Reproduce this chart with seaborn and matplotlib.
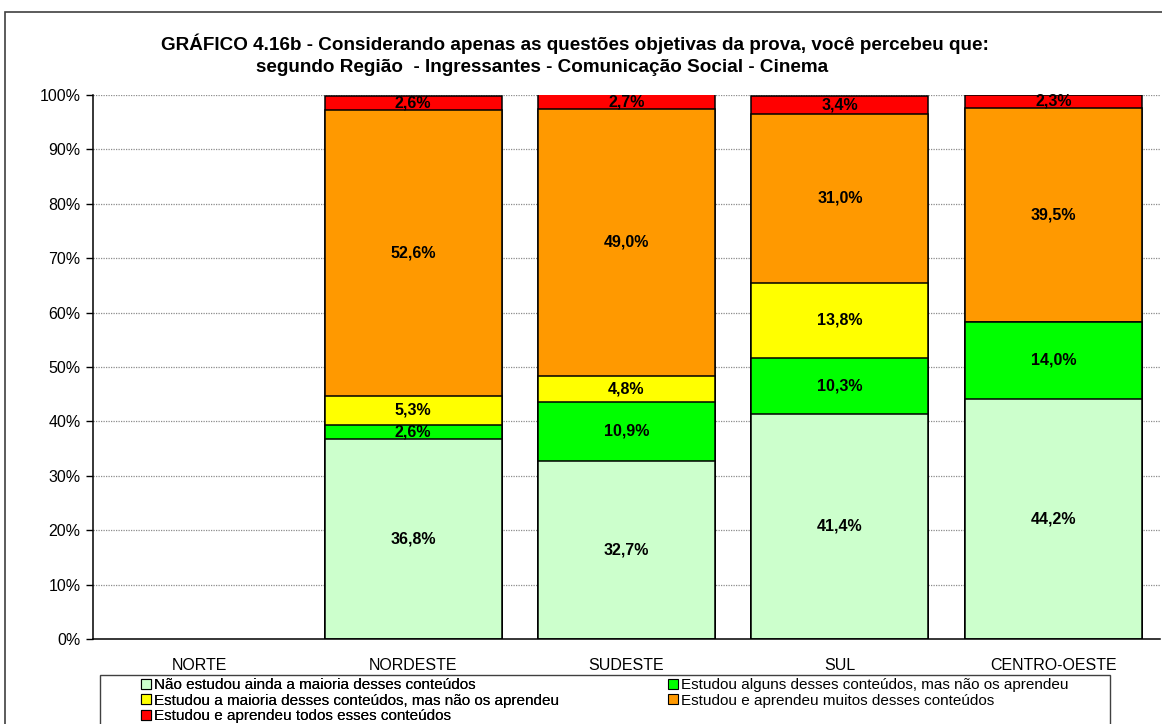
import numpy as np
import pandas as pd
import matplotlib
matplotlib.use("Agg")
import matplotlib.pyplot as plt
from matplotlib.patches import Patch, Rectangle
import seaborn as sns

# Regions and response shares (%) per region
regions = ["NORTE", "NORDESTE", "SUDESTE", "SUL", "CENTRO-OESTE"]
nao_estudou = [np.nan, 36.8, 32.7, 41.4, 44.2]
alguns = [np.nan, 2.6, 10.9, 10.3, 14.0]
maioria = [np.nan, 5.3, 4.8, 13.8, 0.0]
muitos = [np.nan, 52.6, 49.0, 31.0, 39.5]
todos = [np.nan, 2.6, 2.7, 3.4, 2.3]

series_names = [
    "Não estudou ainda a maioria desses conteúdos",
    "Estudou alguns desses conteúdos, mas não os aprendeu",
    "Estudou a maioria desses conteúdos, mas não os aprendeu",
    "Estudou e aprendeu muitos desses conteúdos",
    "Estudou e aprendeu todos esses conteúdos",
]
series_values = [nao_estudou, alguns, maioria, muitos, todos]
colors = ["#CCFFCC", "#00FF00", "#FFFF00", "#FF9900", "#FF0000"]
y_ticks = [0, 10, 20, 30, 40, 50, 60, 70, 80, 90, 100]

sns.set_style("white")
plt.rcParams["font.family"] = ["Liberation Sans", "DejaVu Sans"]
plt.rcParams.update({"text.color": "black", "xtick.color": "black",
                     "ytick.color": "black", "axes.labelcolor": "black"})

W, H = 1162, 724
fig = plt.figure(figsize=(W / 100, H / 100), dpi=100)
ax = fig.add_axes([93 / W, 1 - 639 / H, 1067 / W, 544 / H])

vals = np.array(series_values, dtype=float)
cum = np.nancumsum(np.nan_to_num(vals), axis=0)
cum[:, np.isnan(vals[0])] = np.nan

# Stacked bars: draw cumulative totals from the top layer down
for i in range(len(series_names) - 1, -1, -1):
    df = pd.DataFrame({"regiao": regions, "valor": cum[i]})
    sns.barplot(data=df, x="regiao", y="valor", order=regions, color=colors[i],
                saturation=1, width=0.83, edgecolor="black", linewidth=1.1,
                errorbar=None, ax=ax, zorder=3)

# Segment labels
for i in range(len(series_names)):
    for j in range(len(regions)):
        v = vals[i, j]
        if np.isnan(v) or v <= 0:
            continue
        base = cum[i, j] - v
        ax.text(j, base + v / 2, f"{v:.1f}%".replace(".", ","), ha="center", va="center",
                fontsize=11.5, fontweight="bold", color="black", zorder=5)

ax.set_xlim(-0.5, len(regions) - 0.5)
ax.set_ylim(0, 100)
ax.set_yticks(y_ticks)
ax.set_yticklabels([f"{t}%" for t in y_ticks], fontsize=11.5)
ax.set_xticks(range(len(regions)))
ax.set_xticklabels(regions, fontsize=11.5)
ax.set_xticks(np.arange(-0.5, len(regions)), minor=True)
ax.tick_params(axis="x", which="major", length=0, pad=14)
ax.tick_params(axis="x", which="minor", length=5, width=1, color="black", direction="out")
ax.tick_params(axis="y", which="major", length=5, width=1, color="black", direction="out", left=True, pad=4)
ax.set_xlabel("")
ax.set_ylabel("")

for y in y_ticks[1:]:
    ax.axhline(y, color="#8c8c8c", linestyle=(0, (1, 1)), linewidth=0.9, zorder=1)

for s in ["top", "right"]:
    ax.spines[s].set_visible(False)
for s in ["left", "bottom"]:
    ax.spines[s].set_color("black")
    ax.spines[s].set_linewidth(1.1)
    ax.spines[s].set_zorder(4)

# Title
fig.text(575 / W, 1 - 44 / H, "GRÁFICO 4.16b - Considerando apenas as questões objetivas da prova, você percebeu que:",
         ha="center", va="center", fontsize=13.6, fontweight="bold")
fig.text(542 / W, 1 - 68 / H, "segundo Região  - Ingressantes - Comunicação Social - Cinema",
         ha="center", va="center", fontsize=13.6, fontweight="bold")

# Outer chart frame
fig.patches.append(Rectangle((5 / W, -0.05), 1.2, 1 - 12 / H + 0.05, transform=fig.transFigure,
                             fill=False, edgecolor="#404040", linewidth=1.2))

# Legend frame
fig.patches.append(Rectangle((100 / W, -0.05), 1010 / W, 1 - 675 / H + 0.05, transform=fig.transFigure,
                             fill=False, edgecolor="#404040", linewidth=1.0))

# Legend entries in two columns
handles = [Patch(facecolor=c, edgecolor="black", linewidth=0.8) for c in colors]
leg_kw = dict(loc="upper left", frameon=False, prop={"size": 11},
              handlelength=0.65, handleheight=0.65, handletextpad=0.2,
              labelspacing=0.1, borderpad=0.0, borderaxespad=0)
leg1 = fig.legend([handles[k] for k in (0, 2, 4)], [series_names[k] for k in (0, 2, 4)],
                  bbox_to_anchor=(141 / W, 1 - 678 / H), **leg_kw)
fig.add_artist(leg1)
fig.legend([handles[k] for k in (1, 3)], [series_names[k] for k in (1, 3)],
           bbox_to_anchor=(668 / W, 1 - 678 / H), **leg_kw)

fig.savefig("out.png", dpi=100)
